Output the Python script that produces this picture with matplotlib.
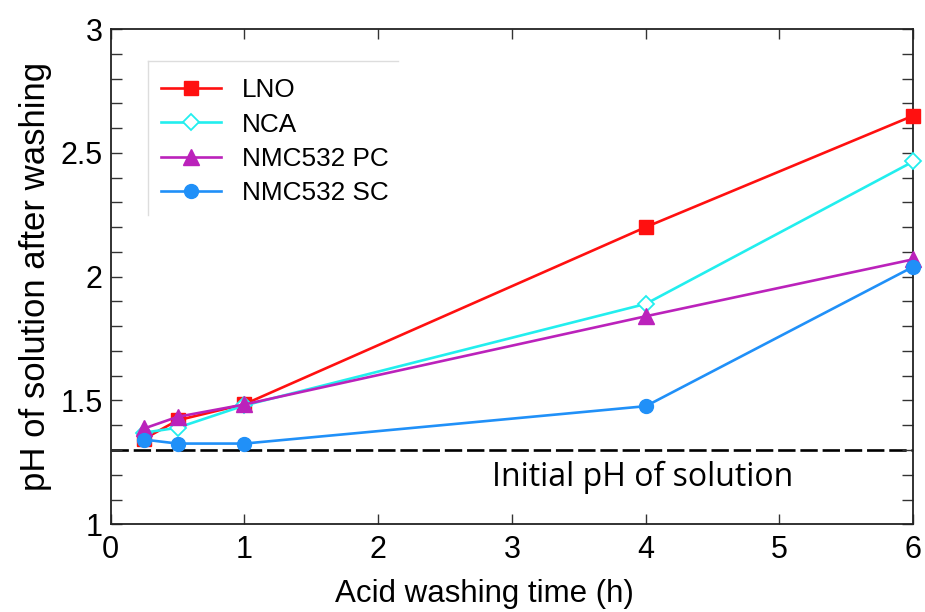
import matplotlib.pyplot as plt
from matplotlib.lines import Line2D
import numpy as np

# acid washing time (h)
time_h = [0.25, 0.5, 1, 4, 6]

# pH of the wash solution after washing
ph_lno = [1.345, 1.42, 1.485, 2.20, 2.65]
ph_nca = [1.37, 1.39, 1.48, 1.89, 2.465]
ph_nmc_pc = [1.387, 1.434, 1.484, 1.84, 2.07]
ph_nmc_sc = [1.342, 1.326, 1.326, 1.477, 2.04]

ph_initial = 1.3

labels = ['LNO', 'NCA', 'NMC532 PC', 'NMC532 SC']

plt.rcParams['font.family'] = ['Liberation Sans', 'DejaVu Sans']
plt.rcParams['lines.scale_dashes'] = False

fig = plt.figure(figsize=(9.25, 6.12), dpi=100)
ax = fig.add_axes([0.1197, 0.1433, 0.8676, 0.8093])

lw = 1.9
ax.plot(time_h, ph_lno, '-s', color='#ff1010', lw=lw, ms=10, label=labels[0],
        clip_on=False, zorder=4)
ax.plot(time_h, ph_nca, '-D', color='#22eeee', lw=lw, ms=8.5,
        markerfacecolor='white', markeredgewidth=1.3, label=labels[1],
        clip_on=False, zorder=4)
ax.plot(time_h, ph_nmc_pc, '-^', color='#bb22bb', lw=lw, ms=11, label=labels[2],
        clip_on=False, zorder=4)
ax.plot(time_h, ph_nmc_sc, '-o', color='#2090f8', lw=lw, ms=10, label=labels[3],
        clip_on=False, zorder=4)

# starting pH of the acid
ax.axhline(ph_initial, color='black', lw=1.9, dashes=(12.5, 3.5), zorder=1)
ax.text(2.85, 1.19, 'Initial pH of solution', fontsize=23,
        family=['Open Sans', 'DejaVu Sans'], va='center', ha='left')

ax.set_xlim(0, 6)
ax.set_ylim(1, 3)
ax.set_xticks(np.arange(0, 7, 1))
ax.set_yticks([1, 1.5, 2, 2.5, 3])
ax.set_yticklabels(['1', '1.5', '2', '2.5', '3'])
ax.set_yticks(np.arange(1, 3.01, 0.1), minor=True)
ax.tick_params(axis='both', which='both', direction='in', top=True, right=True,
               labelsize=22, width=1.0, color='#333333')
ax.tick_params(axis='x', which='major', length=7, pad=8)
ax.tick_params(axis='y', which='both', length=8, pad=6)
for s in ax.spines.values():
    s.set_linewidth(1.3)
    s.set_color('#222222')

ax.set_xlabel('Acid washing time (h)', fontsize=22.5, labelpad=2)
ax.xaxis.set_label_coords(0.466, -0.11)
ax.set_ylabel('pH of solution after washing', fontsize=25, labelpad=6)

ax.legend(loc='upper left', bbox_to_anchor=(0.05, 0.922), frameon=False,
          fontsize=18.8, handlelength=2.3, handletextpad=0.8,
          labelspacing=0.4, borderaxespad=0)

# partial light frame around the legend
ax.add_line(Line2D([0.0465, 0.0465], [0.624, 0.935], transform=ax.transAxes,
                   color='#dddddd', lw=1))
ax.add_line(Line2D([0.0465, 0.358], [0.935, 0.935], transform=ax.transAxes,
                   color='#dddddd', lw=1))

fig.savefig('out.png', dpi=100)
